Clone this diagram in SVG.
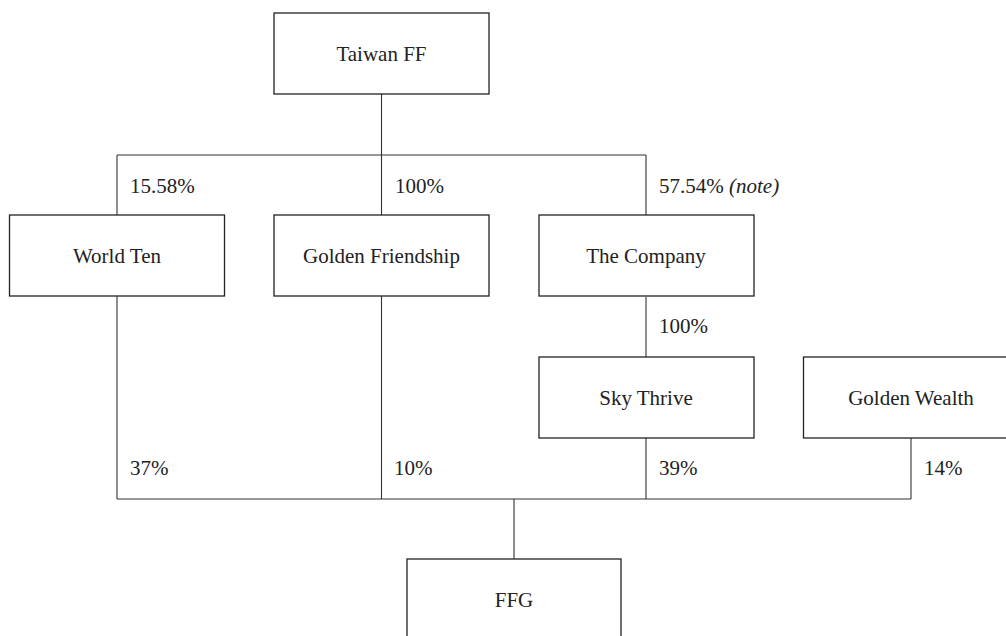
<svg xmlns="http://www.w3.org/2000/svg" width="1006" height="636" viewBox="0 0 1006 636">
<style>
.box{fill:#fff;stroke:#222;stroke-width:1.3}
.lbl{font-family:"Liberation Serif","Times New Roman",serif;font-size:21px;fill:#222}
.t{text-anchor:middle}
.ln{stroke:#333;stroke-width:1.1;fill:none}
</style>
<rect width="1006" height="636" fill="#fff"/>
<g id="connectors">
<path class="ln" d="M381.5 94V155M117 155H646M117 155V215M381.5 155V215M646 155V215"/>
<path class="ln" d="M646 297V357"/>
<path class="ln" d="M117 296V499M381.5 296V499M646 438V499M911 438V499M117 499H911M514 499V559"/>
<text class="lbl" x="130" y="193">15.58%</text>
<text class="lbl" x="395" y="193">100%</text>
<text class="lbl" x="659" y="193">57.54% <tspan font-style="italic">(note)</tspan></text>
<text class="lbl" x="659" y="333">100%</text>
<text class="lbl" x="130" y="475">37%</text>
<text class="lbl" x="394" y="475">10%</text>
<text class="lbl" x="659" y="475">39%</text>
<text class="lbl" x="924" y="475">14%</text>
</g>
<g id="taiwan-ff"><rect class="box" x="274" y="13" width="215" height="81"/><text class="lbl t" x="381.5" y="61">Taiwan FF</text></g>
<g id="world-ten"><rect class="box" x="9.5" y="215" width="215" height="81"/><text class="lbl t" x="117" y="263">World Ten</text></g>
<g id="golden-friendship"><rect class="box" x="274" y="215" width="215" height="81"/><text class="lbl t" x="381.5" y="263">Golden Friendship</text></g>
<g id="the-company"><rect class="box" x="539" y="215" width="215" height="81"/><text class="lbl t" x="646" y="263">The Company</text></g>
<g id="sky-thrive"><rect class="box" x="539" y="357" width="215" height="81"/><text class="lbl t" x="646" y="405">Sky Thrive</text></g>
<g id="golden-wealth"><rect class="box" x="803.5" y="357" width="215" height="81"/><text class="lbl t" x="911" y="405">Golden Wealth</text></g>
<g id="ffg"><rect class="box" x="407" y="559" width="214" height="90"/><text class="lbl t" x="514" y="607">FFG</text></g>
</svg>
